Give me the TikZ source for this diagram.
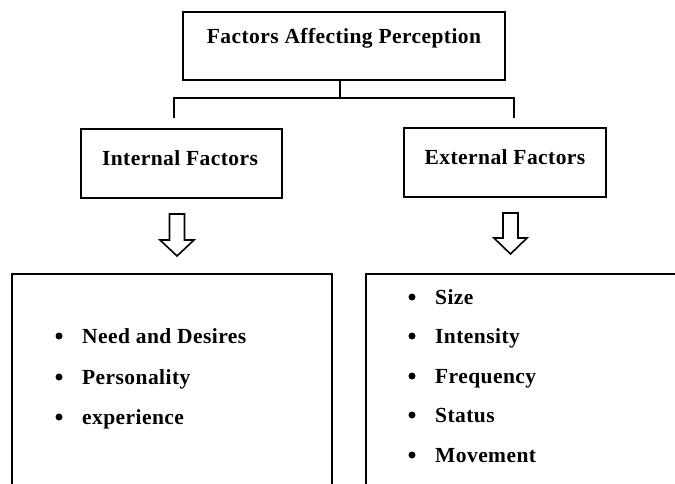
\documentclass[tikz,border=0pt]{standalone}
\usepackage{fontspec}
\setmainfont{Liberation Serif}
\newfontfamily\spacedfont[LetterSpace=2]{Liberation Serif}
\begin{document}
\begin{tikzpicture}[x=1pt,y=-1pt,
  box/.style={draw=black,line width=2pt,rectangle,inner sep=0pt},
  lbl/.style={font=\spacedfont\fontsize{21.5}{25}\selectfont\bfseries,inner sep=0pt},
  item/.style={font=\spacedfont\fontsize{21.5}{25}\selectfont\bfseries,inner sep=0pt,anchor=base west},
  dot/.style={circle,fill=black,inner sep=0pt,minimum size=7pt},
  conn/.style={draw=black,line width=2pt},
  hollow/.style={draw=black,line width=1.6pt,fill=white,line join=miter}]
\useasboundingbox (0,0) rectangle (675,484);
\clip (0,0) rectangle (675,484);
\fill[white] (0,0) rectangle (675,484);
% top box
\node[box,minimum width=322pt,minimum height=68pt] (top) at (344,46) {};
\node[lbl] (toplbl) at (344,38) {Factors Affecting Perception};
% second level boxes
\node[box,minimum width=201pt,minimum height=69pt] (int) at (181.5,163.5) {};
\node[lbl] (intlbl) at (180,158) {Internal Factors};
\node[box,minimum width=202pt,minimum height=69pt] (ext) at (505,162.5) {};
\node[lbl] (extlbl) at (505,157) {External Factors};
% connectors
\coordinate (j) at (340,98);
\coordinate (jl) at (174,98);
\coordinate (jr) at (514,98);
\coordinate (el) at (174,117);
\coordinate (er) at (514,117);
\draw[conn] (top.south -| j) -- (j);
\draw[conn,line cap=rect] (el) -- (jl) -- (jr) -- (er);
% hollow arrows
\draw[hollow] (169.5,214) -- (184.5,214) -- (184.5,240) -- (194,240) -- (177,256) -- (160,240) -- (169.5,240) -- cycle;
\draw[hollow] (503,213) -- (518,213) -- (518,238) -- (527,238) -- (510.5,254) -- (494,238) -- (503,238) -- cycle;
% bottom boxes (cut off at picture edge)
\coordinate (lb1) at (12,500);
\coordinate (lb2) at (12,274);
\coordinate (lb3) at (332,274);
\coordinate (lb4) at (332,500);
\draw[conn,line join=miter] (lb1) -- (lb2) -- (lb3) -- (lb4);
\coordinate (rb1) at (366,500);
\coordinate (rb2) at (366,274);
\coordinate (rb3) at (690,274);
\draw[conn,line join=miter] (rb1) -- (rb2) -- (rb3);
% left items
\node[dot] (ld1) at (59,336) {};
\node[item] (li1) at (82,343) {Need and Desires};
\node[dot] (ld2) at (59,377) {};
\node[item] (li2) at (82,384) {Personality};
\node[dot] (ld3) at (59,417) {};
\node[item] (li3) at (82,424) {experience};
% right items
\node[dot] (rd1) at (412,297) {};
\node[item] (ri1) at (435,304) {Size};
\node[dot] (rd2) at (412,336) {};
\node[item] (ri2) at (435,343) {Intensity};
\node[dot] (rd3) at (412,376) {};
\node[item] (ri3) at (435,383) {Frequency};
\node[dot] (rd4) at (412,415) {};
\node[item] (ri4) at (435,422) {Status};
\node[dot] (rd5) at (412,455) {};
\node[item] (ri5) at (435,462) {Movement};
\end{tikzpicture}
\end{document}
